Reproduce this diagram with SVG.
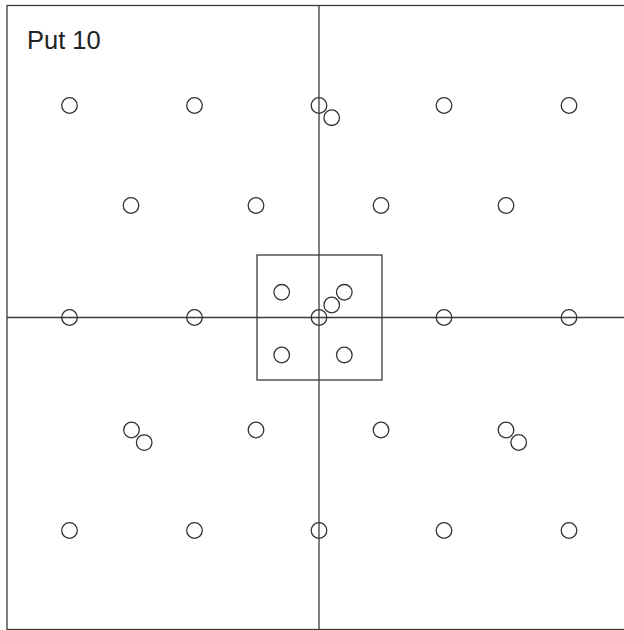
<svg xmlns="http://www.w3.org/2000/svg" width="624" height="630" viewBox="0 0 624 630">
<style>
.ln{fill:none;stroke:#3a3a3a;stroke-width:1.3}
.pt{fill:none;stroke:#333;stroke-width:1.3}
text{font-family:"Liberation Sans",Arial,sans-serif;fill:#222}
</style>
<rect width="624" height="630" fill="#fff"/>
<g id="frame">
<rect class="ln" x="7" y="5.5" width="624" height="624"/>
<rect class="ln" x="257" y="255" width="125" height="125"/>
</g>
<g id="axes">
<line class="ln" x1="7" y1="317.5" x2="631" y2="317.5"/>
<line class="ln" x1="319" y1="5.5" x2="319" y2="629.5"/>
</g>
<text x="27" y="49" font-size="25.5">Put 10</text>
<g id="points">
<circle class="pt" cx="69.5" cy="105.5" r="7.8"/>
<circle class="pt" cx="194.5" cy="105.5" r="7.8"/>
<circle class="pt" cx="319" cy="105.5" r="7.8"/>
<circle class="pt" cx="331.7" cy="117.7" r="7.8"/>
<circle class="pt" cx="444" cy="105.5" r="7.8"/>
<circle class="pt" cx="569" cy="105.5" r="7.8"/>
<circle class="pt" cx="131" cy="205.5" r="7.8"/>
<circle class="pt" cx="256" cy="205.5" r="7.8"/>
<circle class="pt" cx="381" cy="205.5" r="7.8"/>
<circle class="pt" cx="506" cy="205.5" r="7.8"/>
<circle class="pt" cx="69.5" cy="317.5" r="7.8"/>
<circle class="pt" cx="194.5" cy="317.5" r="7.8"/>
<circle class="pt" cx="319" cy="317.5" r="7.8"/>
<circle class="pt" cx="331.7" cy="305" r="7.8"/>
<circle class="pt" cx="344.3" cy="292.3" r="7.8"/>
<circle class="pt" cx="281.7" cy="292.3" r="7.8"/>
<circle class="pt" cx="281.7" cy="355" r="7.8"/>
<circle class="pt" cx="344.3" cy="355" r="7.8"/>
<circle class="pt" cx="444" cy="317.5" r="7.8"/>
<circle class="pt" cx="569" cy="317.5" r="7.8"/>
<circle class="pt" cx="131.5" cy="430" r="7.8"/>
<circle class="pt" cx="144.2" cy="442.6" r="7.8"/>
<circle class="pt" cx="256" cy="430" r="7.8"/>
<circle class="pt" cx="381" cy="430" r="7.8"/>
<circle class="pt" cx="506" cy="430" r="7.8"/>
<circle class="pt" cx="518.7" cy="442.5" r="7.8"/>
<circle class="pt" cx="69.5" cy="530.5" r="7.8"/>
<circle class="pt" cx="194.5" cy="530.5" r="7.8"/>
<circle class="pt" cx="319" cy="530.5" r="7.8"/>
<circle class="pt" cx="444" cy="530.5" r="7.8"/>
<circle class="pt" cx="569" cy="530.5" r="7.8"/>
</g>
</svg>
